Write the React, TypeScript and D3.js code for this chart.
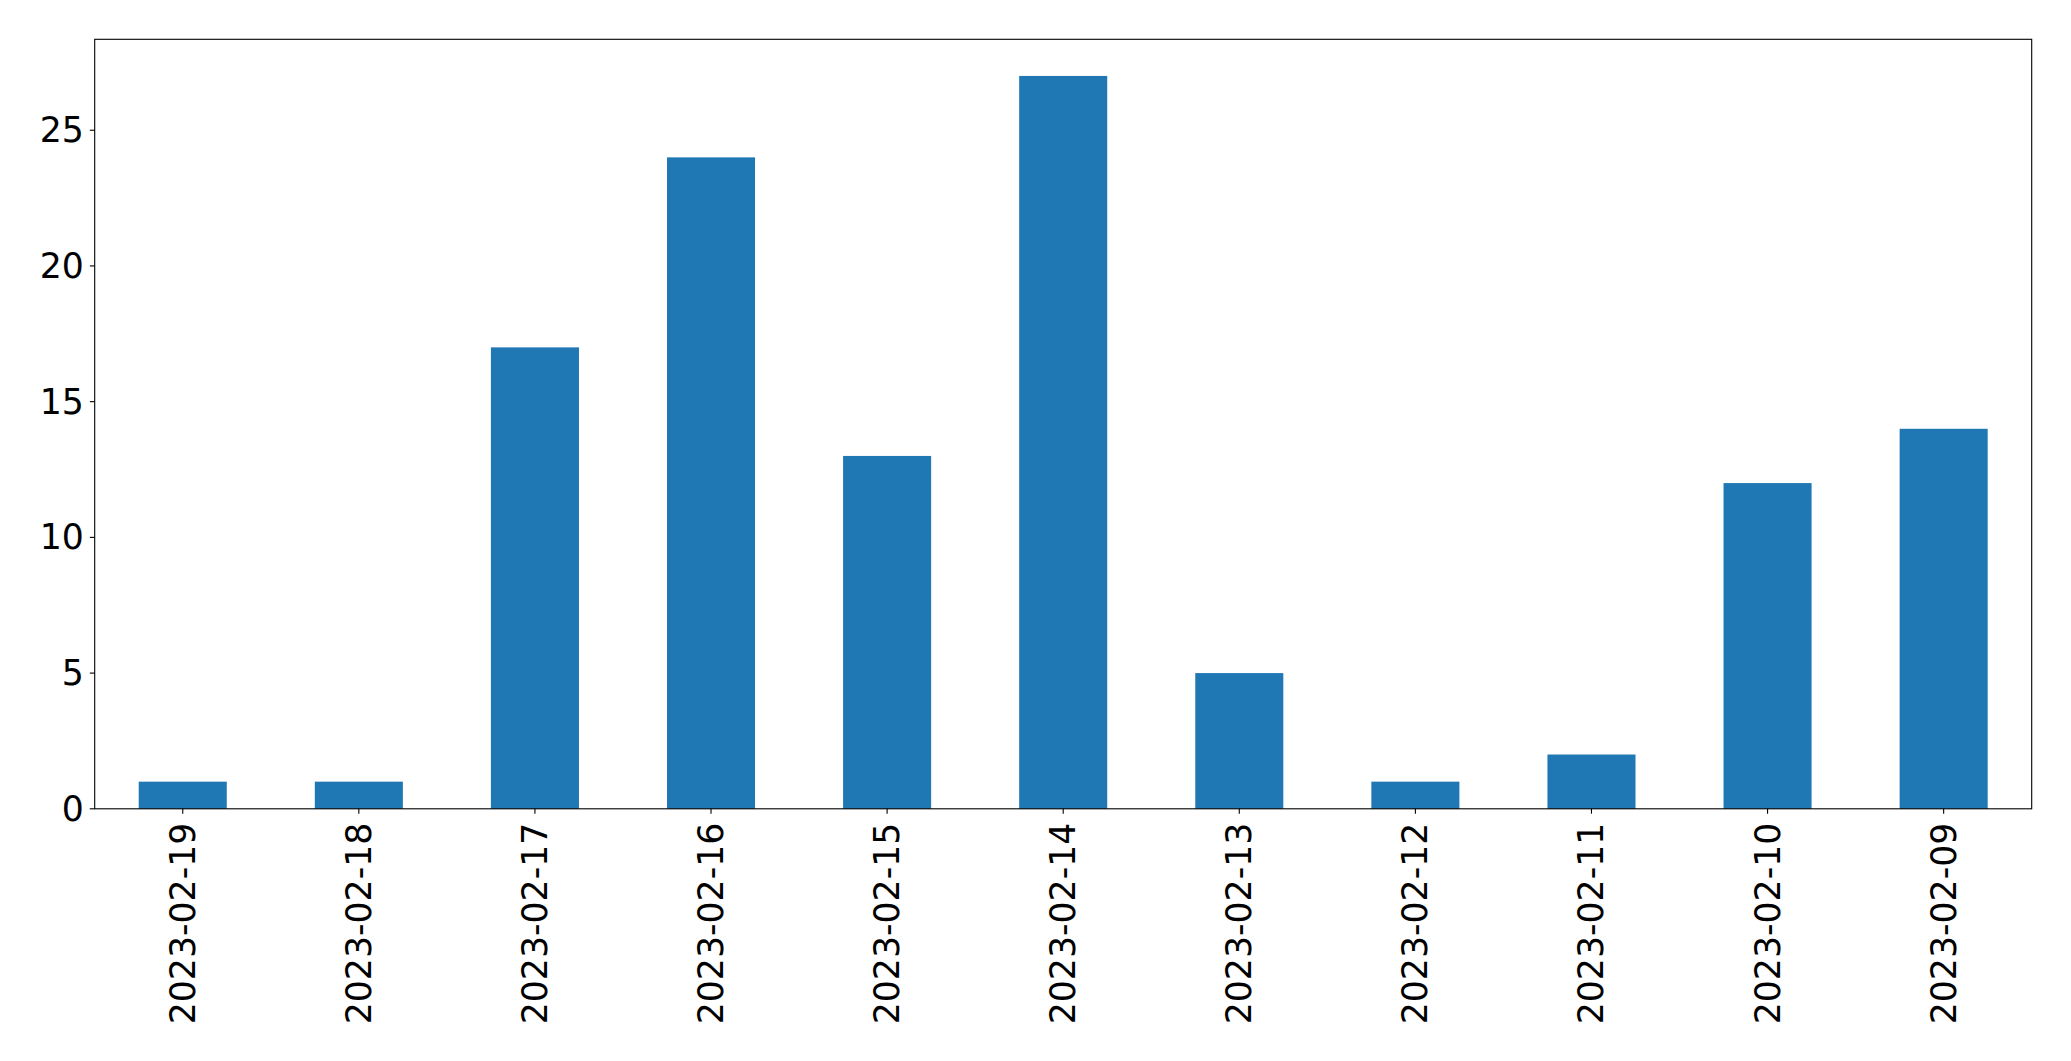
import React from "react";
import * as d3 from "d3";

const categories = [
  "2023-02-19", "2023-02-18", "2023-02-17", "2023-02-16", "2023-02-15",
  "2023-02-14", "2023-02-13", "2023-02-12", "2023-02-11", "2023-02-10", "2023-02-09",
];
const values = [1, 1, 17, 24, 13, 27, 5, 1, 2, 12, 14];
const yTicks = [0, 5, 10, 15, 20, 25];

const W = 2071;
const H = 1061;
const left = 94.7;
const right = 2031.7;
const top = 39.3;
const bottom = 808.8;
const FONT = "'DejaVu Sans', sans-serif";
const FS = 34.7;

export default function App() {
  const x = d3.scaleLinear().domain([-0.5, categories.length - 0.5]).range([left, right]);
  const yMax = d3.max(values)! * 1.05;
  const y = d3.scaleLinear().domain([0, yMax]).range([bottom, top]);
  const barW = x(0.25) - x(-0.25);
  return (
    <svg width={W} height={H} style={{ position: "absolute", left: 0, top: 0, background: "#fff" }}>
      <rect x={0} y={0} width={W} height={H} fill="#fff" />
      {values.map((v, i) => (
        <rect key={i} x={x(i) - barW / 2} y={y(v)} width={barW} height={y(0) - y(v)} fill="#1f77b4" />
      ))}
      <rect x={left} y={top} width={right - left} height={bottom - top} fill="none" stroke="#000" strokeWidth={1.1} />
      {yTicks.map((t) => (
        <g key={t}>
          <line x1={left - 4.9} x2={left} y1={y(t)} y2={y(t)} stroke="#000" strokeWidth={1.1} />
          <text x={left - 4.9 - 6} y={y(t)} textAnchor="end" dominantBaseline="central" fontFamily={FONT} fontSize={FS} fill="#000">
            {t}
          </text>
        </g>
      ))}
      {categories.map((c, i) => (
        <g key={c}>
          <line x1={x(i)} x2={x(i)} y1={bottom} y2={bottom + 4.9} stroke="#000" strokeWidth={1.1} />
          <text
            transform={`translate(${x(i)},${bottom + 4.9 + 9}) rotate(-90)`}
            textAnchor="end"
            dominantBaseline="central"
            fontFamily={FONT}
            fontSize={FS}
            fill="#000"
          >
            {c}
          </text>
        </g>
      ))}
    </svg>
  );
}
